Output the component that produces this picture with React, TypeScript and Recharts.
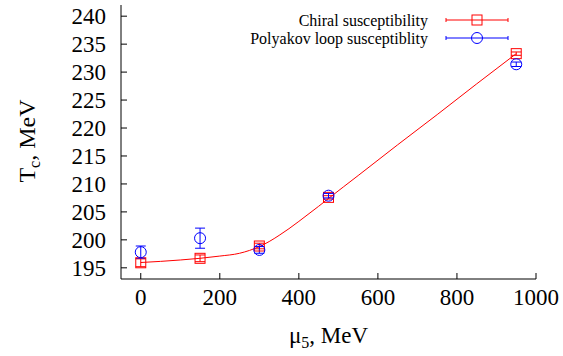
import React from 'react';
import { ComposedChart, Line, Scatter, XAxis, YAxis, ErrorBar, Label } from 'recharts';

// data points (mu5 in MeV, Tc in MeV)
const mu5 = [0, 150, 300, 475, 950];
const chiralTc = [195.9, 196.7, 198.9, 207.6, 233.3];
const chiralErr = [0.7, 0.6, 0.5, 0.3, 0.3];
const polyakovTc = [197.8, 200.3, 198.2, 207.9, 231.4];
const polyakovErr = [1.1, 1.8, 0.6, 0.4, 0.4];

// red fit curve
const fitMu5 = [0, 50, 100, 150, 200, 250, 300, 325, 350, 375, 400, 450, 475, 550, 650, 750, 850, 950];
const fitTc = [195.95, 196.15, 196.4, 196.7, 197.1, 197.6, 198.8, 199.7, 200.8, 202.0, 203.3, 206.0, 207.4, 211.5, 217.0, 222.4, 227.9, 233.3];

const xTicks = [0, 200, 400, 600, 800, 1000];
const yTicks = [195, 200, 205, 210, 215, 220, 225, 230, 235, 240];

const chiralData = mu5.map((m, i) => ({ mu: m, tc: chiralTc[i], err: chiralErr[i] }));
const polyakovData = mu5.map((m, i) => ({ mu: m, tc: polyakovTc[i], err: polyakovErr[i] }));
const fitData = fitMu5.map((m, i) => ({ mu: m, tc: fitTc[i] }));

const FONT = '"Liberation Serif", "Times New Roman", serif';
const RED = '#ff0000';
const BLUE = '#0000ff';
const txt = (size: number) => ({ fontFamily: FONT, fontSize: size });

const BottomTick = (props: any) => {
    const { x, y, payload } = props;
    return (
        <g>
            <line x1={x} y1={y} x2={x} y2={y - 6} stroke="#000" />
            <text x={x} y={y + 26} textAnchor="middle" style={txt(23)} fill="#000">{payload.value}</text>
        </g>
    );
};

const TopTick = (props: any) => {
    const { x, y } = props;
    return <line x1={x} y1={y} x2={x} y2={y + 6} stroke="#000" />;
};

const LeftTick = (props: any) => {
    const { x, y, payload } = props;
    return (
        <g>
            <line x1={x} y1={y} x2={x + 6} y2={y} stroke="#000" />
            <text x={x - 15} y={y} dy="0.35em" textAnchor="end" style={txt(23)} fill="#000">{payload.value}</text>
        </g>
    );
};

const RightTick = (props: any) => {
    const { x, y } = props;
    return <line x1={x} y1={y} x2={x - 6} y2={y} stroke="#000" />;
};

const Square = (props: any) => {
    const { cx, cy } = props;
    return <rect x={cx - 5} y={cy - 5} width={10} height={10} fill="none" stroke={RED} strokeWidth={1} />;
};

const Circle = (props: any) => {
    const { cx, cy } = props;
    return <circle cx={cx} cy={cy} r={5.5} fill="none" stroke={BLUE} strokeWidth={1} />;
};

const XTitle = (props: any) => {
    const { viewBox } = props;
    const cx = viewBox.x + viewBox.width / 2;
    return (
        <text x={cx} y={viewBox.y + 64} textAnchor="middle" style={txt(23)} fill="#000">
            μ<tspan dy={5} style={txt(16)}>5</tspan><tspan dy={-5}>, MeV</tspan>
        </text>
    );
};

const YTitle = () => (
    <text x={35} y={141} transform="rotate(-90, 35, 141)" textAnchor="middle" style={txt(24)} fill="#000">
        T<tspan dy={5} style={txt(16)}>c</tspan><tspan dy={-5}>, MeV</tspan>
    </text>
);

const LegendBox = () => {
    const rows = [
        { label: 'Chiral susceptibility', color: RED, y: 20, square: true },
        { label: 'Polyakov loop susceptiblity', color: BLUE, y: 38, square: false },
    ];
    return (
        <svg width={563} height={356} style={{ position: 'absolute', left: 0, top: 0, pointerEvents: 'none' }}>
            {rows.map((r) => (
                <g key={r.label}>
                    <text x={428} y={r.y} dy="0.35em" textAnchor="end" style={txt(16)} fill="#000">{r.label}</text>
                    <line x1={446} y1={r.y} x2={508} y2={r.y} stroke={r.color} />
                    <line x1={446} y1={r.y - 2} x2={446} y2={r.y + 2} stroke={r.color} />
                    <line x1={508} y1={r.y - 2} x2={508} y2={r.y + 2} stroke={r.color} />
                    {r.square
                        ? <rect x={472} y={r.y - 5} width={10} height={10} fill="none" stroke={r.color} />
                        : <circle cx={477} cy={r.y} r={5.5} fill="none" stroke={r.color} />}
                </g>
            ))}
        </svg>
    );
};

export default function App() {
    return (
        <div style={{ position: 'absolute', left: 0, top: 0, width: 563, height: 356, background: '#fff' }}>
            <ComposedChart width={563} height={356} margin={{ top: 5, right: 27, bottom: 0, left: 0 }}>
                <XAxis
                    type="number"
                    dataKey="mu"
                    domain={[-50, 1000]}
                    ticks={xTicks}
                    interval={0}
                    height={77}
                    tickSize={0}
                    tickMargin={0}
                    tickLine={false}
                    tick={<BottomTick />}
                    axisLine={{ stroke: '#000' }}
                >
                    <Label content={<XTitle />} />
                </XAxis>
                <XAxis
                    xAxisId="top"
                    orientation="top"
                    type="number"
                    dataKey="mu"
                    domain={[-50, 1000]}
                    ticks={xTicks}
                    interval={0}
                    height={0}
                    tickSize={0}
                    tickMargin={0}
                    tickLine={false}
                    tick={<TopTick />}
                    axisLine={{ stroke: '#000' }}
                />
                <YAxis
                    type="number"
                    domain={[193, 242]}
                    ticks={yTicks}
                    interval={0}
                    width={121}
                    tickSize={0}
                    tickMargin={0}
                    tickLine={false}
                    tick={<LeftTick />}
                    axisLine={{ stroke: '#000' }}
                >
                    <Label content={<YTitle />} />
                </YAxis>
                <YAxis
                    yAxisId="right"
                    orientation="right"
                    type="number"
                    domain={[193, 242]}
                    ticks={yTicks}
                    interval={0}
                    width={0}
                    tickSize={0}
                    tickMargin={0}
                    tickLine={false}
                    tick={<RightTick />}
                    axisLine={{ stroke: '#000' }}
                />
                <Line data={fitData} dataKey="tc" type="monotone" stroke={RED} strokeWidth={1} dot={false} activeDot={false} isAnimationActive={false} />
                <Scatter data={chiralData} dataKey="tc" shape={<Square />} isAnimationActive={false}>
                    <ErrorBar dataKey="err" direction="y" width={5} stroke={RED} strokeWidth={1} />
                </Scatter>
                <Scatter data={polyakovData} dataKey="tc" shape={<Circle />} isAnimationActive={false}>
                    <ErrorBar dataKey="err" direction="y" width={5} stroke={BLUE} strokeWidth={1} />
                </Scatter>
            </ComposedChart>
            <LegendBox />
        </div>
    );
}
